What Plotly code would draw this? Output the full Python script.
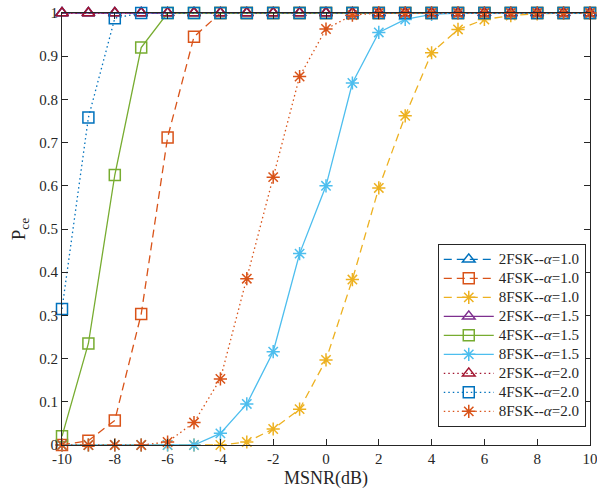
import plotly.graph_objects as go

msnr = list(range(-10, 11))

p_2fsk_a10 = [1.0] * 21
p_4fsk_a10 = [0.0, 0.01, 0.057, 0.303, 0.712, 0.945, 1.0, 1.0, 1.0, 1.0, 1.0, 1.0, 1.0, 1.0, 1.0, 1.0, 1.0, 1.0, 1.0, 1.0, 1.0]
p_8fsk_a10 = [0.0, 0.0, 0.0, 0.0, 0.0, 0.0, 0.0, 0.007, 0.037, 0.083, 0.197, 0.383, 0.595, 0.762, 0.908, 0.962, 0.985, 0.994, 0.998, 1.0, 1.0]
p_2fsk_a15 = [1.0] * 21
p_4fsk_a15 = [0.02, 0.235, 0.625, 0.92, 1.0, 1.0, 1.0, 1.0, 1.0, 1.0, 1.0, 1.0, 1.0, 1.0, 1.0, 1.0, 1.0, 1.0, 1.0, 1.0, 1.0]
p_8fsk_a15 = [0.0, 0.0, 0.0, 0.0, 0.0, 0.0, 0.027, 0.095, 0.216, 0.443, 0.6, 0.838, 0.955, 0.985, 0.997, 1.0, 1.0, 1.0, 1.0, 1.0, 1.0]
p_2fsk_a20 = [1.0] * 21
p_4fsk_a20 = [0.315, 0.758, 0.988, 1.0, 1.0, 1.0, 1.0, 1.0, 1.0, 1.0, 1.0, 1.0, 1.0, 1.0, 1.0, 1.0, 1.0, 1.0, 1.0, 1.0, 1.0]
p_8fsk_a20 = [0.0, 0.0, 0.0, 0.0, 0.007, 0.052, 0.153, 0.385, 0.62, 0.853, 0.963, 0.995, 1.0, 1.0, 1.0, 1.0, 1.0, 1.0, 1.0, 1.0, 1.0]

x_ticks = list(range(-10, 11, 2))
x_tick_labels = ["-10", "-8", "-6", "-4", "-2", "0", "2", "4", "6", "8", "10"]
y_ticks = [i / 10 for i in range(11)]
y_tick_labels = ["0", "0.1", "0.2", "0.3", "0.4", "0.5", "0.6", "0.7", "0.8", "0.9", "1"]

DASH = "8px,5px"
DOT = "1.5px,3px"
series = [
    ("2FSK--<i>α</i>=1.0", p_2fsk_a10, "#0072BD", DASH, "triangle-up-open"),
    ("4FSK--<i>α</i>=1.0", p_4fsk_a10, "#D95319", DASH, "square-open"),
    ("8FSK--<i>α</i>=1.0", p_8fsk_a10, "#EDB120", DASH, "asterisk-open"),
    ("2FSK--<i>α</i>=1.5", p_2fsk_a15, "#7E2F8E", "solid", "triangle-up-open"),
    ("4FSK--<i>α</i>=1.5", p_4fsk_a15, "#77AC30", "solid", "square-open"),
    ("8FSK--<i>α</i>=1.5", p_8fsk_a15, "#4DBEEE", "solid", "asterisk-open"),
    ("2FSK--<i>α</i>=2.0", p_2fsk_a20, "#A2142F", DOT, "triangle-up-open"),
    ("4FSK--<i>α</i>=2.0", p_4fsk_a20, "#0072BD", DOT, "square-open"),
    ("8FSK--<i>α</i>=2.0", p_8fsk_a20, "#D95319", DOT, "asterisk-open"),
]

fig = go.Figure()
for name, ys, color, dash, sym in series:
    fig.add_trace(go.Scatter(
        x=msnr, y=ys, name='<span style="font-size:15px">' + name + '</span>',
        mode="lines+markers",
        line=dict(color=color, width=1.3, dash=dash),
        marker=dict(symbol=sym, size=11, color=color, line=dict(color=color, width=1.5)),
        cliponaxis=False,
    ))

font_family = "Liberation Serif"
fig.update_layout(
    width=597, height=495,
    margin=dict(l=62, r=7, t=13, b=50, autoexpand=False),
    plot_bgcolor="white", paper_bgcolor="white",
    font=dict(family=font_family, size=14, color="#262626"),
    showlegend=True,
    legend=dict(
        x=0.992, y=0.042, xanchor="right", yanchor="bottom",
        bgcolor="white", bordercolor="#262626", borderwidth=1,
        font=dict(family=font_family, size=12, color="#262626"),
        tracegroupgap=0, itemwidth=50,
    ),
)
fig.update_xaxes(
    range=[-10, 10], tickvals=x_ticks, ticktext=x_tick_labels,
    ticks="inside", ticklen=6, tickcolor="#262626", mirror="ticks",
    showline=True, linecolor="#262626", linewidth=1, showgrid=False, zeroline=False,
    title=dict(text="MSNR(dB)", font=dict(family=font_family, size=18), standoff=5),
    tickfont=dict(family=font_family, size=15), automargin=False,
    ticklabeloverflow="allow",
)
fig.update_yaxes(
    range=[0, 1], tickvals=y_ticks, ticktext=y_tick_labels,
    ticks="inside", ticklen=6, tickcolor="#262626", mirror="ticks",
    showline=True, linecolor="#262626", linewidth=1, showgrid=False, zeroline=False,
    title=dict(text="P<sub>ce</sub>", font=dict(family=font_family, size=19), standoff=8),
    tickfont=dict(family=font_family, size=15), automargin=False,
)
fig.write_html("out.html")
